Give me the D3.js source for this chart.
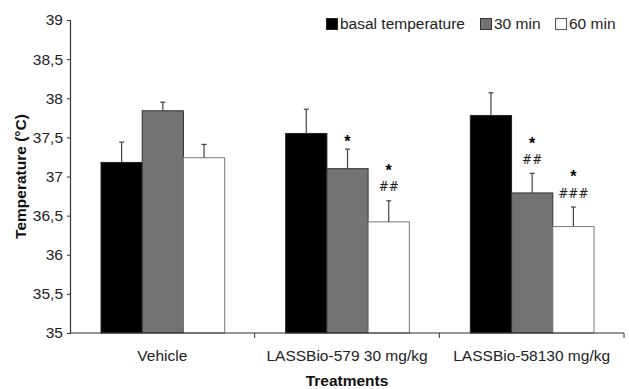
<!DOCTYPE html>
<html><head><meta charset="utf-8">
<script src="https://cdn.jsdelivr.net/npm/d3@7"></script>
<style>body{margin:0;background:#fff}svg{display:block}</style>
</head><body>
<svg id="c" width="629" height="389"></svg>
<script>
const categories = ["Vehicle", "LASSBio-579 30 mg/kg", "LASSBio-58130 mg/kg"];
const seriesNames = ["basal temperature", "30 min", "60 min"];
const basal = [37.18, 37.55, 37.78];
const min30 = [37.84, 37.10, 36.79];
const min60 = [37.24, 36.42, 36.36];
const errBasal = [0.26, 0.31, 0.29];
const err30 = [0.11, 0.25, 0.25];
const err60 = [0.17, 0.27, 0.25];
const stars30 = ["", "*", "*"];
const hashes30 = ["", "", "##"];
const stars60 = ["", "*", "*"];
const hashes60 = ["", "##", "###"];
const yTicks = [35, 35.5, 36, 36.5, 37, 37.5, 38, 38.5, 39];

const fills = ["#000000", "#737373", "#ffffff"];
const strokes = ["#222", "#333", "#777"];
const values = [basal, min30, min60];
const errs = [errBasal, err30, err60];
const stars = [null, stars30, stars60];
const hashes = [null, hashes30, hashes60];

const svg = d3.select("#c");
const m = {l: 70};
const font = "Liberation Sans, Arial, Helvetica, sans-serif";
const fs = 15.5;
const x0 = d3.scaleBand().domain(categories).range([m.l, 624]).paddingInner(0).paddingOuter(0);
const x1 = d3.scaleBand().domain(seriesNames).range([31, x0.bandwidth() - 30]).padding(0);
const y = d3.scaleLinear().domain([35, 39]).range([333, 20]);

// bars
categories.forEach((c, i) => {
  const g = svg.append("g").attr("transform", `translate(${x0(c)},0)`);
  seriesNames.forEach((s, j) => {
    const v = values[j][i], e = errs[j][i];
    const bx = x1(s), bw = x1.bandwidth();
    g.append("rect").attr("x", bx).attr("y", y(v)).attr("width", bw).attr("height", y(35) - y(v))
      .attr("fill", fills[j]).attr("stroke", strokes[j]).attr("stroke-width", 1);
    const cx = bx + bw / 2;
    const et = y(v + e);
    g.append("line").attr("x1", cx).attr("x2", cx).attr("y1", y(v)).attr("y2", et)
      .attr("stroke", "#444").attr("stroke-width", 1.2);
    g.append("line").attr("x1", cx - 2.5).attr("x2", cx + 2.5).attr("y1", et).attr("y2", et)
      .attr("stroke", "#444").attr("stroke-width", 1.2);
    if (stars[j]) {
      const h = hashes[j][i], st = stars[j][i];
      let starC = et - 11;
      if (h) {
        const hc = et - 14;
        g.append("text").attr("x", cx).attr("y", hc + 4.5).attr("text-anchor", "middle")
          .attr("font-family", "DejaVu Serif, serif").attr("font-size", 12).attr("fill", "#222").text(h);
        starC = hc - 20;
      }
      if (st) {
        g.append("text").attr("x", cx).attr("y", starC + 9.3).attr("text-anchor", "middle")
          .attr("font-family", font).attr("font-weight", "bold").attr("font-size", 16).text(st);
      }
    }
  });
});

// y axis
const ya = svg.append("g").attr("transform", `translate(${m.l},0)`)
  .call(d3.axisLeft(y).tickValues(yTicks).tickSize(3).tickPadding(4)
    .tickFormat(d => String(d).replace(".", ",")));
ya.select(".domain").attr("stroke", "#333").attr("stroke-width", 1.2);
ya.selectAll(".tick line").attr("stroke", "#333");
ya.selectAll("text").attr("font-family", font).attr("font-size", fs).attr("fill", "#222");

// x axis
const xa = svg.append("g").attr("transform", `translate(0,${y(35)})`);
xa.append("line").attr("x1", m.l).attr("x2", 624).attr("y1", 0).attr("y2", 0).attr("stroke", "#333").attr("stroke-width", 1.2);
categories.forEach((c, i) => {
  if (i > 0) xa.append("line").attr("x1", x0(c)).attr("x2", x0(c)).attr("y1", 0).attr("y2", 5).attr("stroke", "#333");
  xa.append("text").attr("x", x0(c) + x0.bandwidth() / 2).attr("y", 28).attr("text-anchor", "middle")
    .attr("font-family", font).attr("font-size", fs).attr("fill", "#222").text(c);
});
xa.append("line").attr("x1", 624).attr("x2", 624).attr("y1", 0).attr("y2", 5).attr("stroke", "#333");

// axis titles
svg.append("text").attr("x", (m.l + 624) / 2).attr("y", 386).attr("text-anchor", "middle")
  .attr("font-family", font).attr("font-weight", "bold").attr("font-size", fs).attr("fill", "#111").text("Treatments");
svg.append("text").attr("transform", `translate(26,${(20 + 333) / 2}) rotate(-90)`).attr("text-anchor", "middle")
  .attr("font-family", font).attr("font-weight", "bold").attr("font-size", fs).attr("fill", "#111").text("Temperature (°C)");

// legend
const legX = [326, 480, 555];
seriesNames.forEach((s, j) => {
  svg.append("rect").attr("x", legX[j] + 0.5).attr("y", 18.5).attr("width", 11).attr("height", 11)
    .attr("fill", fills[j]).attr("stroke", j === 2 ? "#555" : strokes[j]);
  svg.append("text").attr("x", legX[j] + 14).attr("y", 29).attr("font-family", font).attr("font-size", fs)
    .attr("fill", "#222").text(s);
});
</script>
</body></html>
